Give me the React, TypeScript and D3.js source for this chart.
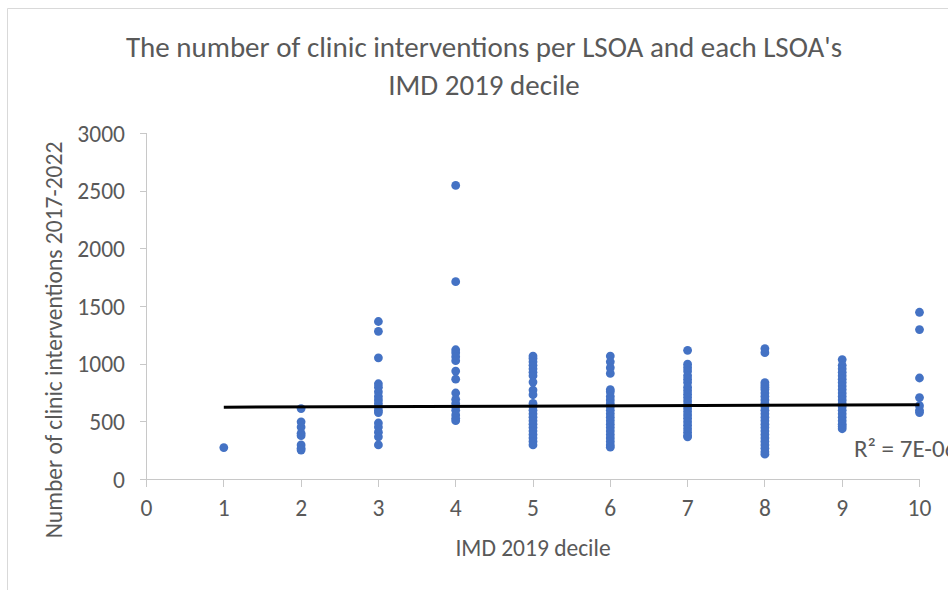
import * as d3 from "d3";

// IMD 2019 decile -> clinic interventions per LSOA
const decile1 = [277];
const decile2 = [615, 500, 455, 400, 380, 300, 270, 255];
const decile3 = [1370, 1285, 1055, 830, 800, 760, 720, 690, 660, 630, 600, 580, 490, 455, 410, 370, 300];
const decile4 = [2550, 1715, 1125, 1100, 1065, 1030, 940, 870, 750, 695, 660, 630, 600, 560, 530, 510];
const decile5 = [1070, 1050, 1020, 990, 960, 930, 900, 845, 775, 735, 660, 630, 600, 570, 540, 510, 480, 450, 420, 390, 360, 330, 300];
const decile6 = [1070, 1020, 970, 920, 780, 760, 720, 690, 660, 630, 600, 570, 540, 510, 480, 450, 420, 390, 360, 330, 300, 280];
const decile7 = [1120, 1000, 970, 940, 900, 870, 840, 800, 770, 740, 710, 680, 650, 620, 590, 560, 530, 500, 470, 440, 410, 380, 370];
const decile8 = [1135, 1100, 840, 820, 800, 780, 750, 720, 690, 660, 630, 600, 570, 540, 510, 480, 450, 420, 390, 360, 330, 300, 270, 240, 220];
const decile9 = [1040, 990, 960, 930, 900, 870, 840, 810, 780, 750, 720, 690, 660, 630, 600, 570, 540, 510, 480, 460, 440];
const decile10 = [1450, 1300, 880, 710, 640, 600, 580];

const columns = [decile1, decile2, decile3, decile4, decile5, decile6, decile7, decile8, decile9, decile10];

// linear trendline end points
const trendX = [1, 10];
const trendY = [627, 648];

const xTicks = [0, 1, 2, 3, 4, 5, 6, 7, 8, 9, 10];
const yTicks = [0, 500, 1000, 1500, 2000, 2500, 3000];

const titleLines = ["The number of clinic interventions per LSOA and each LSOA's", "IMD 2019 decile"];
const xTitle = "IMD 2019 decile";
const yTitle = "Number of clinic interventions 2017-2022";
const rSquared = "R² = 7E-06";

const W = 948;
const H = 590;
const font = "Carlito, Calibri, 'Liberation Sans', Arial, sans-serif";

export default function App() {
  const x = d3.scaleLinear().domain([0, 10]).range([146.5, 919.5]);
  const y = d3.scaleLinear().domain([0, 3000]).range([479.5, 133.5]);

  const points = columns.flatMap((vals, i) => vals.map((v) => ({ d: i + 1, v })));

  const trend = d3
    .line<number>()
    .x((_, i) => x(trendX[i]))
    .y((v) => y(v))(trendY);

  return (
    <svg
      width={W}
      height={H}
      style={{ position: "absolute", left: 0, top: 0, background: "#fff" }}
      fontFamily={font}
    >
      {/* chart frame (cropped on right / bottom) */}
      <line x1={7.5} y1={8.5} x2={W} y2={8.5} stroke="#d9d9d9" />
      <line x1={7.5} y1={8.5} x2={7.5} y2={H} stroke="#d9d9d9" />

      {/* title */}
      {titleLines.map((t, i) => (
        <text
          key={i}
          x={484}
          y={47 + i * 38}
          textAnchor="middle"
          dominantBaseline="central"
          fontSize={29}
          fill="#595959"
        >
          {t}
        </text>
      ))}

      {/* axes */}
      <g stroke="#c8c8c8" strokeWidth={1} shapeRendering="crispEdges">
        <line x1={x(0)} y1={y(0)} x2={x(10)} y2={y(0)} />
        <line x1={x(0)} y1={y(0)} x2={x(0)} y2={y(3000)} />
        {xTicks.map((t) => (
          <line key={"xt" + t} x1={x(t)} x2={x(t)} y1={y(0)} y2={y(0) + 7} />
        ))}
        {yTicks.map((t) => (
          <line key={"yt" + t} x1={x(0) - 7} x2={x(0)} y1={y(t)} y2={y(t)} />
        ))}
      </g>

      {xTicks.map((t) => (
        <text
          key={"xl" + t}
          x={x(t)}
          y={508}
          textAnchor="middle"
          dominantBaseline="central"
          fontSize={23.5}
          fill="#595959"
        >
          {t}
        </text>
      ))}
      {yTicks.map((t) => (
        <text
          key={"yl" + t}
          x={125}
          y={y(t)}
          textAnchor="end"
          dominantBaseline="central"
          fontSize={23.5}
          fill="#595959"
        >
          {t}
        </text>
      ))}

      {/* axis titles */}
      <text x={533} y={548} textAnchor="middle" dominantBaseline="central" fontSize={23.5} fill="#595959">
        {xTitle}
      </text>
      <text
        transform={`translate(54,${340}) rotate(-90)`}
        textAnchor="middle"
        dominantBaseline="central"
        fontSize={23.5}
        fill="#595959"
      >
        {yTitle}
      </text>

      {/* points */}
      {points.map((p, i) => (
        <circle key={i} cx={x(p.d)} cy={y(p.v)} r={4.4} fill="#4472C4" />
      ))}

      {/* trendline */}
      <path d={trend ?? undefined} fill="none" stroke="#000" strokeWidth={3} />

      <text x={854} y={457} fontSize={25} fill="#595959">
        {rSquared}
      </text>
    </svg>
  );
}
